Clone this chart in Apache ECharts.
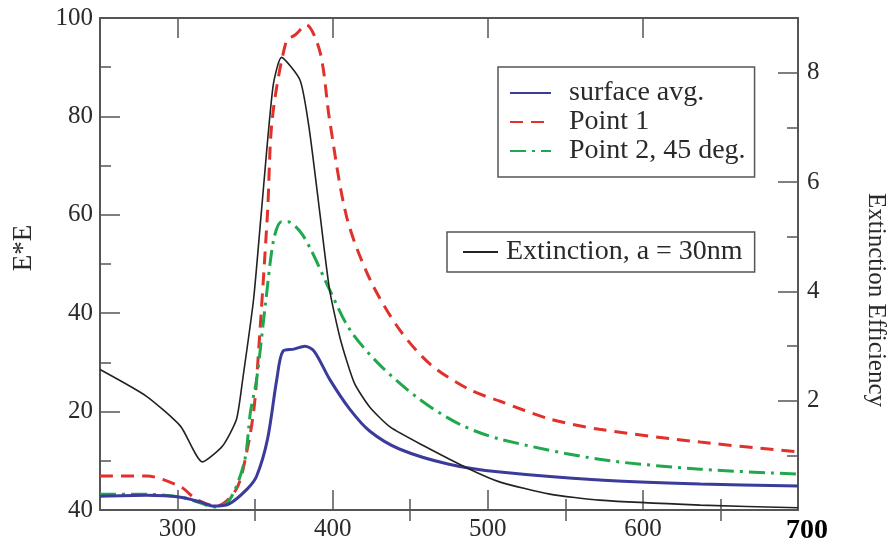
<!DOCTYPE html>
<html>
<head>
<meta charset="utf-8">
<script src="https://cdn.jsdelivr.net/npm/echarts@6/dist/echarts.min.js"></script>
<style>html,body{margin:0;padding:0;background:#fff}#c{width:893px;height:545px}</style>
</head>
<body>
<div id="c"></div>
<script>
// ---- data ----
const xMajorTicks = [300, 400, 500, 600, 700];
const xMinorTicks = [350, 450, 550, 650];
const leftTickValues = [0, 20, 40, 60, 80, 100];
const leftTickLabels = ['40', '20', '40', '60', '80', '100'];
const rightMajorTicks = [2, 4, 6, 8];
const rightMinorTicks = [1, 3, 5, 7];
const leftTitle = 'E*E';
const rightTitle = 'Extinction Efficiency';

const surfX = [250, 280, 302, 315, 323, 333, 345, 351, 358, 364, 368, 375, 382, 388, 398, 411, 424, 443, 475, 508, 572, 637, 700];
const surfY = [2.8, 3.0, 2.6, 1.6, 0.8, 1.2, 4.3, 6.9, 14.4, 26.6, 32.3, 32.7, 33.3, 32.3, 26.6, 20.5, 16.0, 12.4, 9.3, 7.7, 6.1, 5.3, 4.9];

const p1X = [250, 280, 302, 312, 325, 338, 345, 349, 351, 358, 361, 370, 376, 383, 392, 398, 409, 424, 443, 463, 488, 508, 540, 572, 637, 700];
const p1Y = [6.9, 6.9, 4.7, 2.2, 0.8, 4.3, 12.4, 19.9, 26.6, 60.4, 79.3, 95.2, 96.6, 98.6, 92.9, 79.3, 59.6, 46.9, 36.7, 29.6, 24.5, 22.1, 18.5, 16.4, 13.8, 11.8];

const p2X = [250, 280, 302, 315, 323, 333, 343, 347, 351, 357, 362, 367, 371, 379, 386, 398, 411, 430, 456, 482, 508, 572, 637, 700];
const p2Y = [3.2, 3.2, 2.6, 1.4, 0.6, 1.8, 9.7, 19.9, 26.6, 42.8, 55.0, 58.6, 58.6, 56.6, 52.9, 44.8, 36.7, 29.6, 22.5, 17.4, 14.4, 10.3, 8.3, 7.3];

const extX = [250, 280, 302, 316, 329, 338, 342, 349, 354, 361.5, 367, 379, 385, 392, 398, 405, 414, 424, 437, 459, 488, 508, 540, 572, 637, 700];
const extY = [2.57, 2.08, 1.53, 0.88, 1.17, 1.66, 2.39, 3.85, 5.44, 7.74, 8.28, 7.86, 6.95, 5.37, 4.03, 3.12, 2.32, 1.88, 1.52, 1.17, 0.75, 0.51, 0.29, 0.18, 0.09, 0.04];

const pairs = (xs, ys) => xs.map((x, i) => [x, ys[i]]);

const FONT = '"Liberation Serif", "DejaVu Serif", serif';
const AX = '#555';
const TXT = '#2a2a2a';

const chart = echarts.init(document.getElementById('c'), null, {renderer: 'canvas'});

const hiddenLabel = {show: false};
const noLine = {show: false};

chart.setOption({
  animation: false,
  backgroundColor: '#fff',
  grid: {left: 100, right: 95, top: 18, bottom: 34, containLabel: false},
  legend: [
    {
      data: ['surface avg.', 'Point 1', 'Point 2, 45 deg.'],
      orient: 'vertical', left: 498, top: 67,
      borderColor: '#555', borderWidth: 1.5, borderRadius: 0,
      padding: [12, 9, 12, 11], itemGap: 1, itemWidth: 41, itemHeight: 14,
      itemStyle: {opacity: 0},
      textStyle: {fontFamily: FONT, fontSize: 28, lineHeight: 28, color: TXT, padding: [0, 0, 0, 13]},
      selectedMode: false
    },
    {
      data: ['Extinction, a = 30nm'],
      orient: 'vertical', left: 447, top: 232,
      borderColor: '#555', borderWidth: 1.5, borderRadius: 0,
      padding: [6, 12, 6, 15], itemWidth: 35, itemHeight: 14,
      itemStyle: {opacity: 0},
      textStyle: {fontFamily: FONT, fontSize: 28, lineHeight: 28, color: TXT, padding: [0, 0, 0, 3]},
      selectedMode: false
    }
  ],
  graphic: [
    {
      type: 'text', x: 24, y: 248, rotation: Math.PI / 2, silent: true,
      style: {text: leftTitle, fontFamily: FONT, fontSize: 27, fill: TXT, align: 'center', verticalAlign: 'middle'}
    },
    {
      type: 'text', x: 876, y: 300, rotation: -Math.PI / 2, silent: true,
      style: {text: rightTitle, fontFamily: FONT, fontSize: 25, fill: TXT, align: 'center', verticalAlign: 'middle'}
    }
  ],
  xAxis: [
    {
      type: 'value', min: 250, max: 700, interval: 50, position: 'bottom',
      axisLine: {show: true, onZero: false, lineStyle: {color: AX, width: 2}},
      axisTick: {show: true, inside: true, length: 20, customValues: xMajorTicks, lineStyle: {color: AX, width: 1.5}},
      axisLabel: {
        customValues: xMajorTicks, margin: 7, fontFamily: FONT, fontSize: 25, color: TXT,
        formatter: v => v === 700 ? '{b|700}' : String(v),
        rich: {b: {fontFamily: FONT, fontSize: 28, fontWeight: 'bold', color: '#000', padding: [0, 0, 0, 18]}}
      },
      splitLine: {show: false}
    },
    {
      type: 'value', min: 250, max: 700, interval: 50, position: 'bottom',
      axisLine: noLine,
      axisTick: {show: true, inside: true, length: 11, customValues: xMinorTicks, lineStyle: {color: AX, width: 1.5}},
      axisLabel: hiddenLabel, splitLine: {show: false}
    },
    {
      type: 'value', min: 250, max: 700, interval: 50, position: 'top',
      axisLine: {show: true, onZero: false, lineStyle: {color: AX, width: 2}},
      axisTick: {show: true, inside: true, length: 20, customValues: xMajorTicks, lineStyle: {color: AX, width: 1.5}},
      axisLabel: hiddenLabel, splitLine: {show: false}
    },
    {
      type: 'value', min: 250, max: 700, interval: 50, position: 'top',
      axisLine: noLine,
      axisTick: {show: true, inside: true, length: 11, customValues: xMinorTicks, lineStyle: {color: AX, width: 1.5}},
      axisLabel: hiddenLabel, splitLine: {show: false}
    }
  ],
  yAxis: [
    {
      type: 'value', min: 0, max: 100, interval: 20, position: 'left',
      axisLine: {show: true, onZero: false, lineStyle: {color: AX, width: 2}},
      axisTick: {show: true, inside: true, length: 20, lineStyle: {color: AX, width: 1.5}},
      minorTick: {show: true, splitNumber: 2, length: 11, lineStyle: {color: AX, width: 1.5}},
      axisLabel: {
        margin: 7, fontFamily: FONT, fontSize: 25, color: TXT,
        formatter: v => { const i = leftTickValues.indexOf(v); return i >= 0 ? leftTickLabels[i] : ''; }
      },
      splitLine: {show: false}
    },
    {
      type: 'value', min: 0, max: 9, interval: 1, position: 'right',
      axisLine: {show: true, onZero: false, lineStyle: {color: AX, width: 2}},
      axisTick: {show: true, inside: true, length: 20, customValues: rightMajorTicks, lineStyle: {color: AX, width: 1.5}},
      axisLabel: {customValues: rightMajorTicks, margin: 9, fontFamily: FONT, fontSize: 25, color: TXT},
      splitLine: {show: false}
    },
    {
      type: 'value', min: 0, max: 9, interval: 1, position: 'right',
      axisLine: noLine,
      axisTick: {show: true, inside: true, length: 11, customValues: rightMinorTicks, lineStyle: {color: AX, width: 1.5}},
      axisLabel: hiddenLabel, splitLine: {show: false}
    }
  ],
  series: [
    {
      name: 'surface avg.', type: 'line', xAxisIndex: 0, yAxisIndex: 0,
      data: pairs(surfX, surfY), showSymbol: false, smooth: 0.3,
      lineStyle: {color: '#3b3b9c', width: 3}, itemStyle: {color: '#3b3b9c'}, z: 4
    },
    {
      name: 'Point 1', type: 'line', xAxisIndex: 0, yAxisIndex: 0,
      data: pairs(p1X, p1Y), showSymbol: false, smooth: 0.3,
      lineStyle: {color: '#e0312b', width: 3, type: [13, 8]}, itemStyle: {color: '#e0312b'}, z: 3
    },
    {
      name: 'Point 2, 45 deg.', type: 'line', xAxisIndex: 0, yAxisIndex: 0,
      data: pairs(p2X, p2Y), showSymbol: false, smooth: 0.3,
      lineStyle: {color: '#1fa84e', width: 3, type: [16, 6, 3, 6]}, itemStyle: {color: '#1fa84e'}, z: 3
    },
    {
      name: 'Extinction, a = 30nm', type: 'line', xAxisIndex: 0, yAxisIndex: 1,
      data: pairs(extX, extY), showSymbol: false, smooth: 0.2,
      lineStyle: {color: '#222', width: 1.6}, itemStyle: {color: '#222'}, z: 5
    }
  ]
});
</script>
</body>
</html>
